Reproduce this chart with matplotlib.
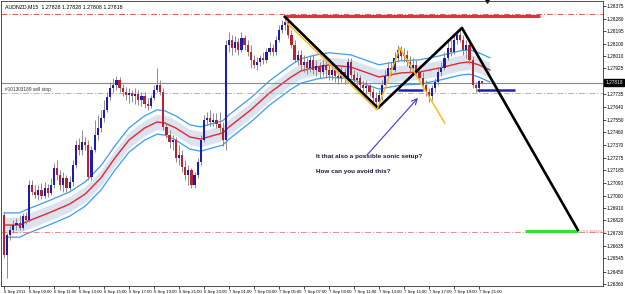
import matplotlib
matplotlib.use("Agg")
import matplotlib.pyplot as plt
from matplotlib.transforms import blended_transform_factory

# ---- data (AUDNZD M15) ----
chart_title = "AUDNZD,M15  1.27828 1.27828 1.27808 1.27818"

first_open = 1.26859
closes = [1.26569, 1.26714, 1.26751, 1.26787, 1.26801, 1.26765, 1.26852, 1.26823, 1.27077, 1.27026,
          1.27004, 1.27041, 1.26997, 1.27055, 1.27019, 1.27077, 1.27200, 1.27149, 1.27077, 1.27128,
          1.27055, 1.27099, 1.27222, 1.27367, 1.27331, 1.27389, 1.27367, 1.27135, 1.27331, 1.27439,
          1.27490, 1.27563, 1.27621, 1.27715, 1.27780, 1.27802, 1.27838, 1.27780, 1.27751, 1.27729,
          1.27744, 1.27722, 1.27737, 1.27693, 1.27722, 1.27664, 1.27650, 1.27708, 1.27766, 1.27802,
          1.27751, 1.27497, 1.27439, 1.27389, 1.27403, 1.27273, 1.27294, 1.27207, 1.27149, 1.27186,
          1.27077, 1.27149, 1.27244, 1.27403, 1.27548, 1.27563, 1.27534, 1.27548, 1.27519, 1.27490,
          1.27403, 1.28092, 1.28128, 1.28070, 1.28114, 1.28056, 1.28143, 1.28092, 1.28041, 1.27983,
          1.27947, 1.27969, 1.27998, 1.27983, 1.28041, 1.28070, 1.28041, 1.28128, 1.28201, 1.28237,
          1.28259, 1.28164, 1.28092, 1.27983, 1.28019, 1.27947, 1.27969, 1.27925, 1.27983, 1.27911,
          1.27940, 1.27896, 1.27947, 1.27911, 1.27874, 1.27911, 1.27867, 1.27853, 1.27896, 1.27853,
          1.27969, 1.27874, 1.27838, 1.27853, 1.27802, 1.27780, 1.27795, 1.27751, 1.27708, 1.27679,
          1.27729, 1.27802, 1.27867, 1.27925, 1.27911, 1.27998, 1.28056, 1.28012, 1.28019, 1.27969,
          1.27925, 1.27947, 1.27896, 1.27853, 1.27802, 1.27751, 1.27722, 1.27780, 1.27824, 1.27896,
          1.27925, 1.27998, 1.28070, 1.28041, 1.28128, 1.28164, 1.28128, 1.28056, 1.28092, 1.27983,
          1.27802, 1.27780, 1.27828, 1.27818]
highs = [1.26881, 1.26729, 1.26787, 1.26823, 1.26838, 1.26859, 1.26874, 1.26881, 1.27113, 1.27113,
         1.27077, 1.27077, 1.27091, 1.27099, 1.27084, 1.27128, 1.27236, 1.27258, 1.27186, 1.27171,
         1.27149, 1.27142, 1.27258, 1.27403, 1.27418, 1.27476, 1.27425, 1.27403, 1.27360, 1.27548,
         1.27584, 1.27621, 1.27693, 1.27751, 1.27824, 1.27853, 1.27867, 1.27860, 1.27809, 1.27787,
         1.27780, 1.27766, 1.27780, 1.27766, 1.27751, 1.27751, 1.27708, 1.27729, 1.27802, 1.27925,
         1.27838, 1.27780, 1.27534, 1.27476, 1.27439, 1.27425, 1.27367, 1.27331, 1.27258, 1.27222,
         1.27200, 1.27171, 1.27273, 1.27439, 1.27584, 1.27606, 1.27621, 1.27599, 1.27599, 1.27606,
         1.27534, 1.28128, 1.28186, 1.28164, 1.28157, 1.28143, 1.28186, 1.28164, 1.28128, 1.28092,
         1.28019, 1.28005, 1.28019, 1.28041, 1.28070, 1.28114, 1.28099, 1.28157, 1.28237, 1.28273,
         1.28295, 1.28288, 1.28201, 1.28128, 1.28056, 1.28056, 1.28019, 1.27998, 1.28019, 1.28019,
         1.27983, 1.27969, 1.27983, 1.27983, 1.27954, 1.27947, 1.27940, 1.27925, 1.27940, 1.27925,
         1.27998, 1.27998, 1.27911, 1.27896, 1.27874, 1.27838, 1.27838, 1.27809, 1.27780, 1.27751,
         1.27766, 1.27838, 1.27911, 1.27969, 1.27969, 1.28041, 1.28092, 1.28085, 1.28070, 1.28056,
         1.28012, 1.27998, 1.27983, 1.27940, 1.27896, 1.27838, 1.27780, 1.27802, 1.27853, 1.27925,
         1.27969, 1.28041, 1.28114, 1.28128, 1.28157, 1.28201, 1.28215, 1.28164, 1.28128, 1.28114,
         1.28012, 1.27824, 1.27838, 1.27828]
lows = [1.26548, 1.26403, 1.26678, 1.26729, 1.26751, 1.26751, 1.26751, 1.26794, 1.26809, 1.27004,
        1.26983, 1.26968, 1.26975, 1.26983, 1.26990, 1.27004, 1.27055, 1.27113, 1.27041, 1.27026,
        1.27026, 1.27041, 1.27070, 1.27200, 1.27294, 1.27294, 1.27331, 1.27113, 1.27113, 1.27316,
        1.27403, 1.27461, 1.27534, 1.27606, 1.27693, 1.27751, 1.27766, 1.27751, 1.27722, 1.27693,
        1.27671, 1.27679, 1.27664, 1.27657, 1.27650, 1.27635, 1.27621, 1.27635, 1.27693, 1.27751,
        1.27729, 1.27476, 1.27418, 1.27345, 1.27331, 1.27244, 1.27222, 1.27171, 1.27113, 1.27077,
        1.27055, 1.27055, 1.27128, 1.27222, 1.27389, 1.27512, 1.27505, 1.27505, 1.27490, 1.27461,
        1.27360, 1.27331, 1.28041, 1.28019, 1.28041, 1.28019, 1.28041, 1.28056, 1.28012, 1.27925,
        1.27925, 1.27911, 1.27940, 1.27954, 1.27961, 1.28019, 1.28012, 1.28019, 1.28114, 1.28179,
        1.28201, 1.28143, 1.28070, 1.27969, 1.27947, 1.27911, 1.27896, 1.27882, 1.27896, 1.27882,
        1.27867, 1.27853, 1.27867, 1.27853, 1.27838, 1.27838, 1.27824, 1.27809, 1.27824, 1.27809,
        1.27824, 1.27853, 1.27802, 1.27795, 1.27766, 1.27751, 1.27737, 1.27722, 1.27679, 1.27635,
        1.27635, 1.27693, 1.27780, 1.27838, 1.27867, 1.27896, 1.27969, 1.27983, 1.27969, 1.27940,
        1.27896, 1.27896, 1.27867, 1.27824, 1.27780, 1.27722, 1.27679, 1.27693, 1.27751, 1.27802,
        1.27867, 1.27911, 1.27983, 1.28012, 1.28027, 1.28099, 1.28114, 1.28019, 1.27998, 1.27954,
        1.27780, 1.27751, 1.27751, 1.27808]

# moving average (red) read at a few bars, envelope / band half widths
ma_bars = [0, 5, 7, 15, 21, 26, 31, 35.5, 40, 45, 49, 51.5, 55, 59.5, 63, 67.5, 70, 72, 79, 85,
           91.5, 95, 100, 104, 111, 115.5, 120, 123.5, 127, 133, 139.5, 146, 149, 152, 155.5]
ma_prices = [1.26787, 1.26787, 1.26809, 1.26881, 1.26939, 1.27012, 1.27128, 1.27273, 1.27403, 1.27490,
             1.27534, 1.27526, 1.27490, 1.27425, 1.27410, 1.27439, 1.27454, 1.27497, 1.27621, 1.27744,
             1.27853, 1.27903, 1.27932, 1.27947, 1.27932, 1.27896, 1.27860, 1.27874, 1.27889, 1.27896,
             1.27925, 1.27961, 1.27969, 1.27947, 1.27911]
envelope_width = 0.00088
band_width = 0.00056

# horizontal levels
bid = 1.27818
tp_level = 1.28317
order_level = 1.27744
sl_level = 1.26737

# hand drawn objects (bar index, price)
black_x = [89.9, 119.7, 146.6, 183.7]
black_y = [1.28295, 1.27635, 1.28215, 1.26751]
yellow_x = [90.2, 119.4, 126.7, 141.1]
yellow_y = [1.28259, 1.27621, 1.28070, 1.27526]
red_bar_x = [89.9, 171.5]
red_bar_y = [1.28302, 1.28302]
green_bar_x = [166.7, 183.7]
green_bar_y = [1.26743, 1.26743]
blue_bar1_x = [126.0, 134.0]
blue_bar2_x = [151.4, 163.5]
blue_bar_y = [1.27766, 1.27766]
arrow_start = (116.2, 1.27294)
arrow_end = (132.5, 1.27708)
note_lines = ["It that also a possible sonic setup?", "How can you avoid this?"]
note_pos = [(99.8, 1.27280), (99.8, 1.27178)]

time_labels = ["6 Sep 2011", "6 Sep 09:00", "6 Sep 11:00", "6 Sep 13:00", "6 Sep 15:00",
               "6 Sep 17:00", "6 Sep 19:00", "6 Sep 21:00", "6 Sep 23:00", "7 Sep 01:00",
               "7 Sep 03:00", "7 Sep 05:00", "7 Sep 07:00", "7 Sep 09:00", "7 Sep 11:00",
               "7 Sep 13:00", "7 Sep 15:00", "7 Sep 17:00", "7 Sep 19:00", "7 Sep 21:00"]
price_ticks = [1.28375, 1.28280, 1.28195, 1.28100, 1.28010, 1.27925, 1.27735, 1.27640, 1.27550,
               1.27460, 1.27370, 1.27275, 1.27185, 1.27090, 1.27000, 1.26910, 1.26820, 1.26730,
               1.26635, 1.26545, 1.26450, 1.26360]

# ---- figure ----
plt.rcParams['font.family'] = ['Liberation Sans', 'DejaVu Sans']
fig = plt.figure(figsize=(6.25, 2.94), dpi=100)
ax = fig.add_axes([0.0016, 0.027, 0.963, 0.970])
ax.set_xlim(-0.96, 191.7)
ax.set_ylim(1.26345, 1.28411)

n = len(closes)
bars = list(range(n))
opens = [first_open] + closes[:-1]

# indicator band
ma_lo_band = [p - band_width for p in ma_prices]
ma_hi_band = [p + band_width for p in ma_prices]
ax.fill_between(ma_bars, ma_lo_band, ma_hi_band, color="#dbe3f0", lw=0, zorder=1)
ax.plot(ma_bars, [p + envelope_width for p in ma_prices], color="#3c9cf0", lw=0.9, zorder=2)
ax.plot(ma_bars, [p - envelope_width for p in ma_prices], color="#3c9cf0", lw=0.9, zorder=2)
ax.plot(ma_bars, ma_prices, color="#e8262b", lw=1.0, zorder=2)

# candles
ax.vlines(bars, lows, highs, color="#8c8c8c", lw=0.7, zorder=3)
body_bottom = [min(o, c) for o, c in zip(opens, closes)]
body_height = [max(abs(c - o), 0.00002) for o, c in zip(opens, closes)]
body_color = ["#1c1cb0" if c >= o else "#b8232b" for o, c in zip(opens, closes)]
ax.bar(bars, body_height, bottom=body_bottom, width=0.7, color=body_color, lw=0, zorder=4)

# horizontal levels
ax.axhline(tp_level, color="#e05a5a", lw=0.7, ls=(0, (6, 2, 1, 2)), zorder=2)
ax.axhline(bid, color="#8a8a8a", lw=0.8, zorder=2)
ax.axhline(order_level, color="#8fd08f", lw=0.7, ls=(0, (6, 2, 1, 2)), zorder=2)
ax.axhline(sl_level, color="#e58c8c", lw=0.7, ls=(0, (6, 2, 1, 2)), zorder=2)

# drawn objects
ax.plot(red_bar_x, red_bar_y, color="#e5322c", lw=2.2, solid_capstyle="butt", zorder=5)
ax.plot(green_bar_x, green_bar_y, color="#33e033", lw=2.2, solid_capstyle="butt", zorder=5)
ax.plot(blue_bar1_x, blue_bar_y, color="#2020b8", lw=1.8, solid_capstyle="butt", zorder=5)
ax.plot(blue_bar2_x, blue_bar_y, color="#2020b8", lw=1.8, solid_capstyle="butt", zorder=5)
ax.plot(black_x, black_y, color="black", lw=1.9, zorder=6)
ax.plot(yellow_x, yellow_y, color="#f5bd1f", lw=1.1, zorder=6)
ax.annotate("", xy=arrow_end, xytext=arrow_start,
            arrowprops=dict(arrowstyle="->", color="#3a3ad8", lw=0.8, shrinkA=0, shrinkB=0),
            zorder=6)
for txt, pos in zip(note_lines, note_pos):
    ax.text(pos[0], pos[1], txt, fontsize=4.6, fontweight="bold", color="#1a1a40",
            va="center", ha="left", zorder=7)

# small labels on chart
ax.text(0.006, 0.988, chart_title, transform=ax.transAxes, fontsize=3.8,
        va="top", ha="left", color="black")
trans_y = blended_transform_factory(ax.transAxes, ax.transData)
ax.text(0.007, order_level + 0.00006, "#101303189 sell stop", transform=trans_y,
        fontsize=3.4, va="bottom", ha="left", color="#333333")
ax.text(0.962, sl_level, "#101303189 sl", transform=trans_y,
        fontsize=2.8, va="center", ha="left", color="#e07a7a")

# chart shift marker at the top
trans_x = blended_transform_factory(ax.transData, ax.transAxes)
ax.plot([n + 0.6], [1.0], marker="v", ms=2.5, color="black", transform=trans_x, clip_on=False)

# axes
ax.yaxis.tick_right()
ax.set_yticks(price_ticks)
ax.set_yticklabels([f"{p:.5f}" for p in price_ticks])
ax.tick_params(axis="y", length=2, width=0.5, labelsize=3.4, pad=1.0)
ax.set_xticks(range(0, 8 * len(time_labels), 8))
ax.set_xticklabels(time_labels)
ax.tick_params(axis="x", length=2, width=0.5, labelsize=3.1, pad=1.0)
for lab in ax.get_xticklabels():
    lab.set_ha("left")
for sp in ax.spines.values():
    sp.set_linewidth(0.6)
    sp.set_color("#333333")

# bid price box
ax.text(1.004, bid, f"{bid:.5f}", transform=trans_y, fontsize=3.4, color="white",
        va="center", ha="left", bbox=dict(facecolor="black", edgecolor="black", pad=0.6))

fig.savefig("out.png", dpi=100, facecolor="white")
